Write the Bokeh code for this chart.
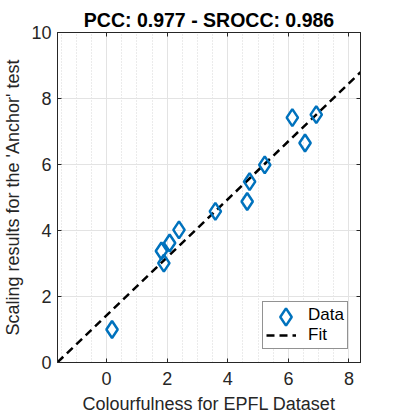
from bokeh.plotting import figure
from bokeh.models import (Range1d, LinearAxis, SingleIntervalTicker, Legend, LegendItem)
from bokeh.embed import file_html
from bokeh.resources import INLINE

# Data
colourfulness = [0.18, 1.89, 1.81, 2.08, 2.39, 3.59, 4.64, 4.72, 5.22, 6.13, 6.55, 6.92]
anchor_scores = [1.00, 3.01, 3.38, 3.62, 4.02, 4.58, 4.88, 5.48, 5.99, 7.42, 6.65, 7.51]
fit_slope = 0.879
fit_intercept = 1.43
x_limits = [-1.62, 8.38]
y_limits = [0, 10]
title_text = "PCC: 0.977 - SROCC: 0.986"

fit_x = list(x_limits)
fit_y = [fit_intercept + fit_slope * v for v in fit_x]

FONT = "Liberation Sans"
TXT = "#262626"
BLUE = "#0072BD"

p = figure(frame_width=303, frame_height=330,
           output_backend="svg", toolbar_location=None,
           x_range=Range1d(*x_limits), y_range=Range1d(*y_limits),
           min_border_left=52, min_border_top=32, min_border_right=28, min_border_bottom=52,
           title=title_text)
p.background_fill_color = "white"
p.border_fill_color = "white"
p.outline_line_color = "#262626"

p.title.align = "center"
p.title.text_font = FONT
p.title.text_font_size = "19.5px"
p.title.text_font_style = "bold"
p.title.text_color = "black"
p.title.standoff = 3
p.title.offset = 0

xt = SingleIntervalTicker(interval=2, num_minor_ticks=4)
yt = SingleIntervalTicker(interval=2, num_minor_ticks=0)
p.xaxis.ticker = xt
p.yaxis.ticker = yt
p.xaxis.axis_label = "Colourfulness for EPFL Dataset"
p.yaxis.axis_label = "Scaling results for the 'Anchor' test"

for ax in (p.xaxis[0], p.yaxis[0]):
    ax.axis_label_text_font = FONT
    ax.axis_label_text_font_size = "18px"
    ax.axis_label_text_font_style = "normal"
    ax.axis_label_text_color = TXT
    ax.major_label_text_font = FONT
    ax.major_label_text_font_size = "18px"
    ax.major_label_text_color = TXT
    ax.major_tick_in = 4
    ax.major_tick_out = 0
    ax.minor_tick_in = 0
    ax.minor_tick_out = 0
    ax.axis_line_color = "#262626"
    ax.major_tick_line_color = "#262626"
p.xaxis.major_label_standoff = 9
p.xaxis.axis_label_standoff = 6
p.yaxis.major_label_standoff = 6
p.yaxis.axis_label_standoff = 5

for loc, tk in (("above", xt), ("right", yt)):
    ax = LinearAxis(ticker=tk)
    ax.major_label_text_font_size = "1px"
    ax.major_label_text_color = None
    ax.major_label_standoff = 0
    ax.major_tick_in = 4
    ax.major_tick_out = 0
    ax.minor_tick_in = 0
    ax.minor_tick_out = 0
    ax.axis_line_color = "#262626"
    ax.major_tick_line_color = "#262626"
    p.add_layout(ax, loc)

p.xgrid.grid_line_color = "#e3e3e3"
p.ygrid.grid_line_color = "#e3e3e3"
p.xgrid.minor_grid_line_color = "#d6d6d6"
p.xgrid.minor_grid_line_dash = "1 2"

fit_r = p.line(fit_x, fit_y, line_color="black", line_width=2.5, line_dash="8 5")
data_r = p.scatter(colourfulness, anchor_scores, marker="diamond", size=17,
                   fill_color=None, line_color=BLUE, line_width=2.5)
# invisible placeholder used only to reserve the "Data" row in the boxed legend
ghost_r = p.scatter([], [], marker="diamond", size=17, fill_color=None,
                    line_color=BLUE, line_alpha=0)

legend = Legend(items=[LegendItem(label="Data", renderers=[ghost_r]),
                       LegendItem(label="Fit", renderers=[fit_r])],
                location=(205, 13))
legend.label_text_font = FONT
legend.label_text_font_size = "17px"
legend.label_text_color = "black"
legend.glyph_width = 30
legend.glyph_height = 20
legend.label_height = 20
legend.label_standoff = 12
legend.padding = 3
legend.spacing = 0
legend.margin = 0
legend.border_line_color = "#262626"
legend.border_line_width = 1
legend.background_fill_color = "white"
legend.background_fill_alpha = 1
p.add_layout(legend, "center")

# larger marker symbol for the "Data" row (legend glyph size scales with its box)
marker_legend = Legend(items=[LegendItem(label="Data", renderers=[data_r])],
                       location=(206.5, 24.5))
marker_legend.glyph_width = 43
marker_legend.glyph_height = 43
marker_legend.label_height = 43
marker_legend.label_text_font_size = "1px"
marker_legend.label_text_color = None
marker_legend.label_standoff = 0
marker_legend.padding = 0
marker_legend.margin = 0
marker_legend.border_line_color = None
marker_legend.background_fill_alpha = 0
p.add_layout(marker_legend, "center")

open("out.html", "w").write(file_html(p, INLINE))
